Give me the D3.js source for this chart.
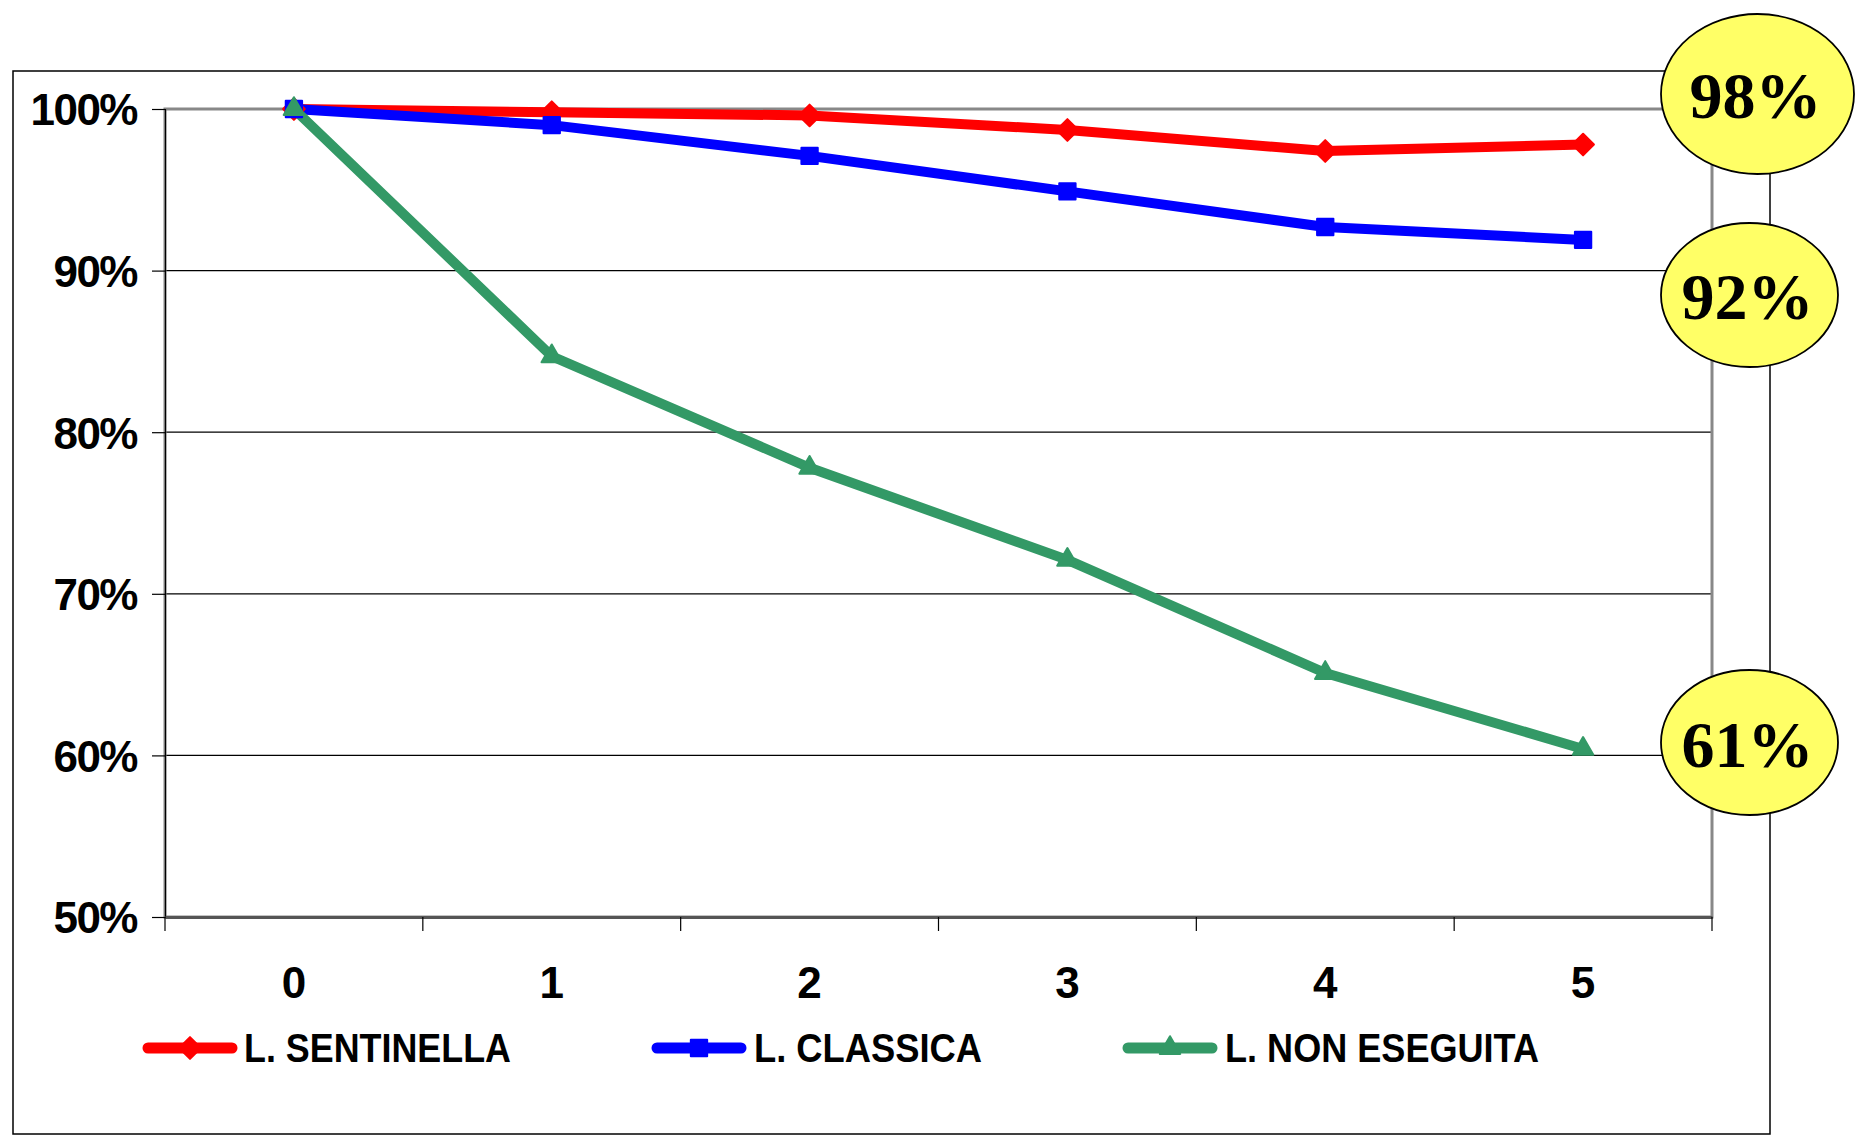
<!DOCTYPE html>
<html>
<head>
<meta charset="utf-8">
<script src="https://cdn.jsdelivr.net/npm/d3@7"></script>
<style>
  html, body { margin: 0; padding: 0; background: #ffffff; }
  svg { display: block; }
</style>
</head>
<body>
<svg id="chart" width="1867" height="1139"></svg>
<script>
// ---- data ----
const categories = ["0", "1", "2", "3", "4", "5"];
const sentinella = [1.000, 0.998, 0.996, 0.987, 0.974, 0.978];
const classica   = [1.000, 0.990, 0.971, 0.949, 0.927, 0.919];
const nonEseguita = [1.000, 0.847, 0.778, 0.721, 0.651, 0.604];
const seriesNames = ["L. SENTINELLA", "L. CLASSICA", "L. NON ESEGUITA"];
const yTicks = [0.5, 0.6, 0.7, 0.8, 0.9, 1.0];
const calloutLabels = ["98%", "92%", "61%"];

// ---- layout ----
const svg = d3.select("#chart");
const plot = { left: 165, right: 1712, top: 109, bottom: 917 };
const colors = ["#ff0000", "#0000ff", "#339966"];
const shapes = [d3.symbolDiamond2, d3.symbolSquare2, d3.symbolTriangle2];

const x = d3.scaleBand().domain(categories).range([plot.left, plot.right]).padding(0);
const y = d3.scaleLinear().domain([0.5, 1.0]).range([plot.bottom, plot.top]);
const cx = c => x(c) + x.bandwidth() / 2;

// outer frame
svg.append("rect")
  .attr("x", 13).attr("y", 71).attr("width", 1757).attr("height", 1063)
  .attr("fill", "#fff").attr("stroke", "#000").attr("stroke-width", 1.5);

// gridlines
svg.append("g").selectAll("line").data(yTicks.filter(t => t > 0.5 && t < 1))
  .join("line")
  .attr("x1", plot.left).attr("x2", plot.right)
  .attr("y1", d => y(d)).attr("y2", d => y(d))
  .attr("stroke", "#000").attr("stroke-width", 1.2);

// plot area border (gray)
svg.append("rect")
  .attr("x", plot.left).attr("y", plot.top)
  .attr("width", plot.right - plot.left).attr("height", plot.bottom - plot.top)
  .attr("fill", "none").attr("stroke", "#888").attr("stroke-width", 3);

// y axis
const yAxis = svg.append("g").attr("transform", `translate(${plot.left},0)`)
  .call(d3.axisLeft(y).tickValues(yTicks).tickFormat(d3.format(".0%")).tickSize(13).tickPadding(15));
yAxis.select(".domain").attr("stroke", "#000").attr("stroke-width", 1.2);
yAxis.selectAll(".tick line").attr("stroke", "#000").attr("stroke-width", 1.2);
yAxis.selectAll(".tick text")
  .attr("font-family", "Liberation Sans, Arial, sans-serif")
  .attr("font-weight", "bold").attr("font-size", 44).attr("fill", "#000")
  .attr("letter-spacing", -1.5).attr("dy", "0.36em");

// x axis
const xAxis = svg.append("g").attr("transform", `translate(0,${plot.bottom})`)
  .call(d3.axisBottom(x).tickSize(0).tickPadding(0));
xAxis.select(".domain").attr("stroke", "#555").attr("stroke-width", 3);
xAxis.selectAll(".tick text")
  .attr("font-family", "Liberation Sans, Arial, sans-serif")
  .attr("font-weight", "bold").attr("font-size", 44).attr("fill", "#000")
  .attr("y", 81).attr("dy", 0);
// ticks between categories
const bounds = categories.map(c => x(c)).concat([plot.right]);
svg.append("g").selectAll("line").data(bounds).join("line")
  .attr("x1", d => d).attr("x2", d => d)
  .attr("y1", plot.bottom).attr("y2", plot.bottom + 14)
  .attr("stroke", "#000").attr("stroke-width", 1.2);

// series
const allSeries = [sentinella, classica, nonEseguita];
const line = d3.line().x((d, i) => cx(categories[i])).y(d => y(d));
allSeries.forEach((vals, si) => {
  const g = svg.append("g");
  g.append("path").datum(vals).attr("d", line)
    .attr("fill", "none").attr("stroke", colors[si]).attr("stroke-width", 10)
    .attr("stroke-linejoin", "round");
});
allSeries.forEach((vals, si) => {
  svg.append("g").selectAll("path").data(vals).join("path")
    .attr("transform", (d, i) => `translate(${cx(categories[i])},${y(d)})`)
    .attr("d", d3.symbol().type(shapes[si]).size(si === 1 ? 340 : 300))
    .attr("fill", colors[si]).attr("stroke", colors[si]).attr("stroke-width", 2)
    .attr("stroke-linejoin", "round");
});

// legend
const legendItems = [
  { lx: 143, tx: 244, w: 267 },
  { lx: 652, tx: 754, w: 228 },
  { lx: 1123, tx: 1225, w: 314 }
];
const ly = 1048;
legendItems.forEach((it, i) => {
  const g = svg.append("g");
  g.append("line").attr("x1", it.lx + 5).attr("x2", it.lx + 89)
    .attr("y1", ly).attr("y2", ly)
    .attr("stroke", colors[i]).attr("stroke-width", 11).attr("stroke-linecap", "round");
  g.append("path").attr("transform", `translate(${it.lx + 47},${ly})`)
    .attr("d", d3.symbol().type(shapes[i]).size(i === 1 ? 340 : 300))
    .attr("fill", colors[i]).attr("stroke", colors[i]).attr("stroke-width", 2)
    .attr("stroke-linejoin", "round");
  g.append("text").attr("x", it.tx).attr("y", ly + 14)
    .attr("font-family", "Liberation Sans, Arial, sans-serif")
    .attr("font-weight", "bold").attr("font-size", 40)
    .attr("textLength", it.w).attr("lengthAdjust", "spacingAndGlyphs")
    .text(seriesNames[i]);
});

// callout ellipses
const callouts = [
  { cx: 1757.5, cy: 94, rx: 96.5, ry: 80 },
  { cx: 1749.5, cy: 295, rx: 88.5, ry: 72 },
  { cx: 1749.5, cy: 742.5, rx: 88.5, ry: 72.5 }
];
callouts.forEach((c, i) => {
  svg.append("ellipse").attr("cx", c.cx).attr("cy", c.cy).attr("rx", c.rx).attr("ry", c.ry)
    .attr("fill", "#ffff66").attr("stroke", "#000").attr("stroke-width", 1.8);
  svg.append("text").attr("x", c.cx - 2).attr("y", c.cy + 24)
    .attr("text-anchor", "middle")
    .attr("font-family", "Liberation Serif, Times New Roman, serif")
    .attr("font-weight", "bold").attr("font-size", 66)
    .text(calloutLabels[i]);
});
</script>
</body>
</html>
